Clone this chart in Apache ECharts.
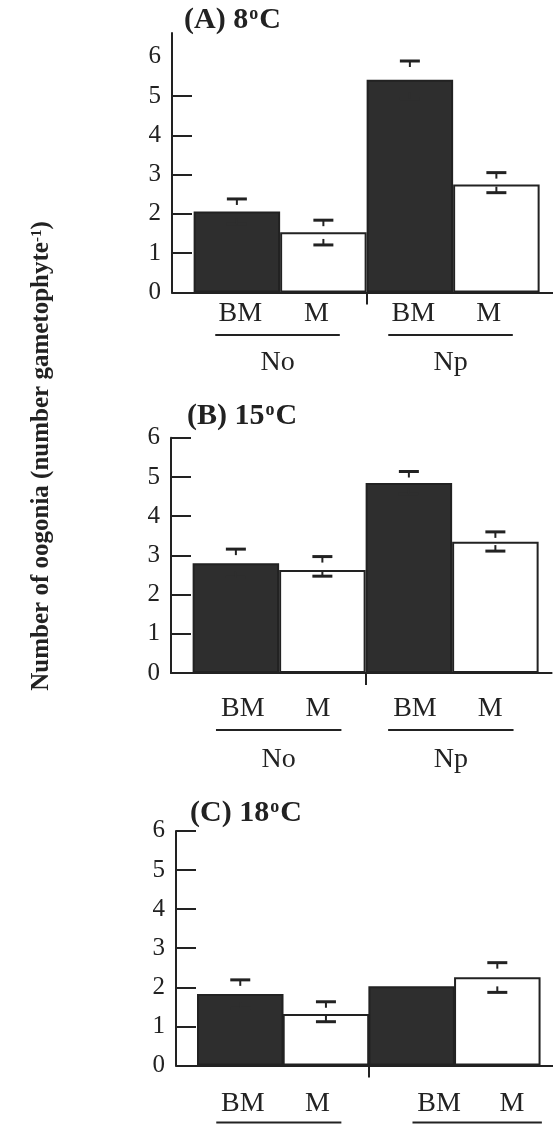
<!DOCTYPE html>
<html>
<head>
<meta charset="utf-8">
<script src="https://cdn.jsdelivr.net/npm/echarts@6/dist/echarts.min.js"></script>
<style>
  html, body { margin: 0; padding: 0; background: #fff; }
  #chart { width: 553px; height: 1124px; }
</style>
</head>
<body>
<div id="chart"></div>
<script>
// Oogonia per gametophyte, by culture medium (BM / M) and nutrient treatment (No / Np)
const treatments = ['BM', 'M', 'BM', 'M'];
const nutrients = ['No', 'Np'];
const panelTitles = ['(A) 8', '(B) 15', '(C) 18'];
const tickLabels = ['0', '1', '2', '3', '4', '5', '6'];

// (A) 8 °C
const meanA = [2.06, 1.53, 5.41, 2.75];
const errHiA = [2.38, 1.84, 5.89, 3.05];
const errLoA = [1.74, 1.21, 4.93, 2.54];
// (B) 15 °C
const meanB = [2.80, 2.63, 4.85, 3.35];
const errHiB = [3.16, 2.97, 5.14, 3.60];
const errLoB = [2.44, 2.47, 4.56, 3.11];
// (C) 18 °C
const meanC = [1.83, 1.32, 2.03, 2.26];
const errHiC = [2.19, 1.63, null, 2.63];
const errLoC = [1.47, 1.12, null, 1.87];

const INK = '#222';
const DARK = '#2e2e2e';
const SERIF = '"Liberation Serif", "DejaVu Serif", serif';

// layout of each panel
const panels = [
  { mean: meanA, hi: errHiA, lo: errLoA,
    grid: { left: 172, top: 33.1, width: 380.6, height: 259.4 }, yMax: 6.6, ticks: [0, 1, 2, 3, 4, 5],
    labelPos: [0.79, 1.67, 2.79, 3.66], labelMargin: 7,
    spans: [[0.50, 1.94], [2.50, 3.94]], lineOff: 42.5, nameOff: 70.5,
    title: { left: 184, top: 5 } },
  { mean: meanB, hi: errHiB, lo: errLoB,
    grid: { left: 171, top: 437.8, width: 380.6, height: 235.2 }, yMax: 6, ticks: [0, 1, 2, 3, 4, 5, 6],
    labelPos: [0.83, 1.70, 2.82, 3.69], labelMargin: 22,
    spans: [[0.52, 1.97], [2.51, 3.96]], lineOff: 57, nameOff: 87,
    title: { left: 187, top: 401 } },
  { mean: meanC, hi: errHiC, lo: errLoC,
    grid: { left: 176, top: 830.9, width: 380.6, height: 234.6 }, yMax: 6, ticks: [0, 1, 2, 3, 4, 5, 6],
    labelPos: [0.78, 1.65, 3.07, 3.92], labelMargin: 24,
    spans: [[0.47, 1.93], [2.76, 4.27]], lineOff: 57, nameOff: 87,
    title: { left: 190, top: 798 } }
];

const grid = [], xAxis = [], yAxis = [], series = [], title = [];

panels.forEach((p, k) => {
  grid.push(Object.assign({ containLabel: false }, p.grid));

  xAxis.push({
    type: 'value', gridIndex: k, min: 0, max: 4.4,
    axisLine: { show: true, onZero: true, lineStyle: { color: INK, width: 2 } },
    axisTick: { show: true, customValues: [2.25], length: 12, lineStyle: { color: INK, width: 2 } },
    axisLabel: {
      show: true, customValues: p.labelPos, margin: p.labelMargin,
      fontFamily: SERIF, fontSize: 28, color: INK,
      formatter: v => {
        const i = p.labelPos.findIndex(q => Math.abs(q - v) < 1e-6);
        return i >= 0 ? treatments[i] : '';
      }
    },
    splitLine: { show: false }
  });

  yAxis.push({
    type: 'value', gridIndex: k, min: 0, max: p.yMax, interval: 1,
    axisLine: { show: true, lineStyle: { color: INK, width: 2 } },
    axisTick: { show: true, inside: true, length: 20, customValues: p.ticks, lineStyle: { color: INK, width: 2 } },
    axisLabel: {
      show: true, margin: 11, customValues: [0, 1, 2, 3, 4, 5, 6],
      fontFamily: SERIF, fontSize: 25, color: INK,
      formatter: v => tickLabels[Math.round(v)]
    },
    splitLine: { show: false }
  });

  // bars: dark = BM, white = M
  series.push({
    type: 'bar', xAxisIndex: k, yAxisIndex: k, barWidth: 86.5, z: 2,
    data: p.mean.map((m, i) => ({
      value: [i + 0.75, m],
      itemStyle: { color: i % 2 === 0 ? DARK : '#fff', borderColor: INK, borderWidth: 2 }
    })),
    silent: true, animation: false
  });

  // error bars: cap with a short stem toward the mean; the lower half sits
  // inside the bar, so on dark bars it takes the bar colour
  const errData = [];
  p.mean.forEach((m, i) => {
    if (p.hi[i] != null) errData.push([i + 0.75, m, p.hi[i], p.lo[i], i % 2 === 0 ? 1 : 0]);
  });
  series.push({
    type: 'custom', xAxisIndex: k, yAxisIndex: k, clip: false, silent: true, animation: false, z: 10,
    data: errData,
    renderItem: (params, api) => {
      const x = api.value(0);
      const pm = api.coord([x, api.value(1)]);
      const ph = api.coord([x, api.value(2)]);
      const pl = api.coord([x, api.value(3)]);
      const lowColor = api.value(4) ? DARK : INK;
      const hw = 10, stub = 6;
      const hiStub = Math.min(stub, pm[1] - ph[1]);
      const loStub = Math.min(stub, pl[1] - pm[1]);
      return { type: 'group', children: [
        { type: 'line', shape: { x1: ph[0] - hw, y1: ph[1], x2: ph[0] + hw, y2: ph[1] }, style: { stroke: INK, lineWidth: 3 } },
        { type: 'line', shape: { x1: ph[0], y1: ph[1], x2: ph[0], y2: ph[1] + hiStub }, style: { stroke: INK, lineWidth: 2 } },
        { type: 'line', shape: { x1: pl[0] - hw, y1: pl[1], x2: pl[0] + hw, y2: pl[1] }, style: { stroke: lowColor, lineWidth: 3 } },
        { type: 'line', shape: { x1: pl[0], y1: pl[1], x2: pl[0], y2: pl[1] - loStub }, style: { stroke: lowColor, lineWidth: 2 } }
      ] };
    }
  });

  // nutrient groups: underline + name below the treatment labels
  series.push({
    type: 'custom', xAxisIndex: k, yAxisIndex: k, clip: false, silent: true, animation: false, z: 10,
    data: p.spans,
    renderItem: (params, api) => {
      const a = api.coord([api.value(0), 0]);
      const b = api.coord([api.value(1), 0]);
      return { type: 'group', children: [
        { type: 'line', shape: { x1: a[0], y1: a[1] + p.lineOff, x2: b[0], y2: b[1] + p.lineOff },
          style: { stroke: INK, lineWidth: 2 } },
        { type: 'text', style: {
            x: (a[0] + b[0]) / 2, y: a[1] + p.nameOff, text: nutrients[params.dataIndex],
            fontFamily: SERIF, fontSize: 28, fill: INK, align: 'center', verticalAlign: 'middle' } }
      ] };
    }
  });

  title.push({
    text: panelTitles[k] + '{sup|o}C',
    left: p.title.left, top: p.title.top, padding: 0,
    textStyle: {
      fontFamily: SERIF, fontSize: 30, fontWeight: 'bold', color: INK,
      rich: { sup: { fontFamily: SERIF, fontSize: 18, fontWeight: 'bold', color: INK, verticalAlign: 'top', padding: [0, 1, 11, 1] } }
    }
  });
});

const chart = echarts.init(document.getElementById('chart'), null, { renderer: 'canvas' });
chart.setOption({
  backgroundColor: '#fff',
  animation: false,
  title,
  grid, xAxis, yAxis, series,
  graphic: [{
    type: 'text', x: 42, y: 456, rotation: Math.PI / 2,
    style: {
      text: 'Number of oogonia (number gametophyte{sup|-1})',
      fontFamily: SERIF, fontSize: 25, fontWeight: 'bold', fill: INK,
      align: 'center', verticalAlign: 'middle',
      rich: { sup: { fontFamily: SERIF, fontSize: 15, fontWeight: 'bold', fill: INK, verticalAlign: 'top', padding: [0, 0, 10, 0] } }
    }
  }]
});
</script>
</body>
</html>
